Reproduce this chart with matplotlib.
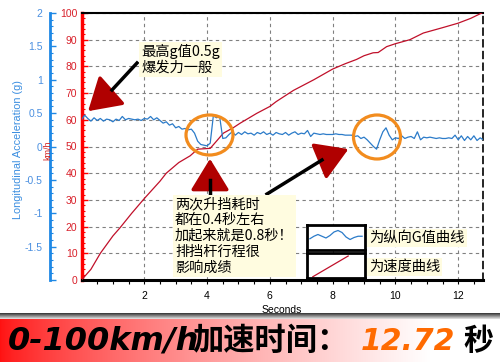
import numpy as np
import matplotlib
matplotlib.use("Agg")
import matplotlib.pyplot as plt
from matplotlib.patches import Ellipse, FancyArrowPatch

# speed curve (seconds, km/h)
speed_t = [0, 0.3, 0.6, 1.0, 1.23, 1.6, 2.0, 2.5, 2.7, 3.1, 3.46, 3.7, 4.1, 4.3, 4.52,
           4.83, 5.05, 5.58, 6.0, 6.2, 6.75, 7.4, 8.0, 8.4, 8.76, 9.0, 9.29, 9.45, 9.72,
           10.0, 10.46, 10.89, 11.5, 12.0, 12.4, 12.75]
speed_v = [0, 4, 10, 16.5, 19.6, 25, 30.5, 37, 40, 44, 46.5, 49, 49.3, 52, 55,
           57, 58.7, 62.4, 65, 66.8, 71, 75, 79, 81, 82.6, 84, 85.1, 85.2, 87.4,
           88.5, 90, 92.5, 94.5, 96.2, 98, 100]

# longitudinal acceleration (g), one reading every 0.1 s from 0 to 12.8 s
g_t = [round(i * 0.1, 1) for i in range(129)]
g_val = [0.40, 0.47, 0.42, 0.38, 0.43, 0.39, 0.42, 0.38, 0.41, 0.40,
         0.37, 0.41, 0.39, 0.45, 0.40, 0.42, 0.41, 0.40, 0.41, 0.39,
         0.42, 0.41, 0.45, 0.40, 0.43, 0.39, 0.35, 0.37, 0.32, 0.34,
         0.28, 0.30, 0.26, 0.27, 0.25, 0.26, 0.20, 0.08, 0.03, 0.02,
         0.01, 0.05, 0.46, 0.43, 0.45, 0.12, 0.13, 0.18, 0.22, 0.17,
         0.21, 0.18, 0.22, 0.19, 0.20, 0.17, 0.21, 0.19, 0.22, 0.18,
         0.20, 0.17, 0.21, 0.19, 0.18, 0.21, 0.17, 0.20, 0.22, 0.18,
         0.20, 0.19, 0.24, 0.15, 0.20, 0.19, 0.18, 0.19, 0.18, 0.18,
         0.18, 0.19, 0.18, 0.18, 0.17, 0.17, 0.17, 0.15, 0.16, 0.12,
         0.14, 0.10, 0.05, 0.00, -0.04, 0.10, 0.22, 0.28, 0.17, 0.10,
         0.13, 0.12, 0.16, 0.12, 0.14, 0.15, 0.12, 0.22, 0.10, 0.14,
         0.13, 0.14, 0.13, 0.12, 0.13, 0.12, 0.12, 0.13, 0.12, 0.17,
         0.10, 0.16, 0.09, 0.15, 0.10, 0.16, 0.09, 0.13, 0.10]

x_ticks = [2, 4, 6, 8, 10, 12]
g_ticks = [-2, -1.5, -1, -0.5, 0, 0.5, 1, 1.5, 2]
g_tick_labels = ["", "-1.5", "-1", "-0.5", "0", "0.5", "1", "1.5", "2"]
speed_ticks = list(range(0, 101, 10))

# little legend samples
legend_wave = [0.45, 0.55, 0.62, 0.55, 0.48, 0.58, 0.72, 0.78, 0.7, 0.52, 0.42, 0.5, 0.55, 0.55]

cjk = ["Noto Sans CJK SC", "DejaVu Sans"]
latin = "Liberation Sans"
W, H = 500, 362


def px(x, y):
    return (x / W, 1 - y / H)


fig = plt.figure(figsize=(W / 100, H / 100), dpi=100)
fig.patch.set_facecolor("white")

# ---- bottom banner ----
ban = fig.add_axes([0, 0, 1, 49 / H])
ban.set_axis_off()
xs = np.linspace(0, 1, 500)
fade = np.clip(xs / 0.86, 0, 1) ** 0.75
img = np.ones((49, 500, 3))
img[:, :, 1] = 0.07 + 0.93 * fade
img[:, :, 2] = 0.07 + 0.93 * fade
for r in range(6):
    shade = 0.25 + r * 0.12
    img[r, :, :] = shade
ban.imshow(img, aspect="auto", extent=[0, 1, 0, 1])
ban.set_xlim(0, 1)
ban.set_ylim(0, 1)

fig.text(8 / W, 1 - 341 / H, "0-100km/h", family="DejaVu Sans", fontsize=23,
         weight="bold", style="italic", color="black", va="center", ha="left")
fig.text(192 / W, 1 - 341 / H, "加速时间：", family=cjk, fontsize=22.5, weight="bold",
         color="black", va="center", ha="left")
fig.text(361 / W, 1 - 341 / H, "12.72", family="DejaVu Sans", fontsize=21.5, weight="bold",
         style="italic", color="#ff6a00", va="center", ha="left")
fig.text(463 / W, 1 - 341 / H, "秒", family=cjk, fontsize=21.5, weight="bold",
         color="black", va="center", ha="left")

# ---- main chart ----
ax = fig.add_axes([81.5 / W, 82 / H, (483 - 81.5) / W, (280 - 13) / H])
ax.plot(speed_t, speed_v, color="#c0102a", lw=0.9, zorder=3)
ax.set_xlim(0, 12.79)
ax.set_ylim(0, 100)
ax.set_xticks(x_ticks)
ax.set_xticks(np.arange(0.5, 12.8, 0.5), minor=True)
ax.set_yticks(speed_ticks)
ax.set_yticks(range(0, 101, 2), minor=True)
ax.grid(True, which="major", ls=(0, (3, 3)), color="#808080", lw=0.8)
ax.tick_params(axis="x", which="both", direction="out", colors="black", labelsize=7.5,
               length=3, width=0.8, pad=5)
ax.tick_params(axis="y", which="major", direction="in", length=4, width=1,
               colors="#ff0000", labelcolor="#d8202a", labelsize=7.5, pad=3)
ax.tick_params(axis="y", which="minor", direction="in", length=2, width=0.8, colors="#ff0000")
for lab in ax.get_xticklabels() + ax.get_yticklabels():
    lab.set_family(latin)
ax.spines["left"].set_color("#ff0000")
ax.spines["left"].set_linewidth(2.5)
ax.spines["bottom"].set_linewidth(2.2)
ax.spines["top"].set_linewidth(1.5)
ax.spines["right"].set_linestyle((0, (4, 3)))
ax.spines["right"].set_linewidth(1.2)
ax.set_xlabel("Seconds", fontsize=7.5, family=latin, labelpad=3)

ax2 = ax.twinx()
ax2.plot(g_t, g_val, color="#2b7bc9", lw=0.9, zorder=3)
ax2.set_ylim(-2, 2)
ax2.set_xlim(0, 12.79)
ax2.yaxis.set_ticks_position("left")
ax2.yaxis.set_label_position("left")
ax2.spines["left"].set_position(("outward", 23))
ax2.spines["left"].set_color("#1e88e5")
ax2.spines["left"].set_linewidth(2)
for s in ["right", "top", "bottom"]:
    ax2.spines[s].set_visible(False)
ax2.set_yticks(g_ticks)
ax2.set_yticklabels(g_tick_labels)
ax2.set_yticks(np.arange(-2, 2.01, 0.1), minor=True)
ax2.tick_params(axis="y", which="major", direction="in", length=4, width=1,
                colors="#1e88e5", labelcolor="#4a8fe0", labelsize=7.5, pad=5)
ax2.tick_params(axis="y", which="minor", direction="in", length=2, width=0.8, colors="#1e88e5")
for lab in ax2.get_yticklabels():
    lab.set_family(latin)

fig.text(18 / W, 1 - 150 / H, "Longitudinal Acceleration (g)", rotation=90, color="#3b8ee0",
         fontsize=7.8, family=latin, ha="center", va="center")
fig.text(47.5 / W, 1 - 150 / H, "km/h", rotation=90, color="#d02020", fontsize=6.5,
         family=latin, ha="center", va="center")

# ---- call-outs ----
yellow = dict(boxstyle="square,pad=0.15", fc="#fffce0", ec="none")
fig.text(141 / W, 1 - 59.5 / H, "最高g值0.5g\n爆发力一般", family=cjk, fontsize=10.3,
         ha="left", va="center", linespacing=1.2, bbox=yellow)
fig.text(175 / W, 1 - 236 / H, "两次升挡耗时\n都在0.4秒左右\n加起来就是0.8秒！\n排挡杆行程很\n影响成绩",
         family=cjk, fontsize=10.2, ha="left", va="center", linespacing=1.17, bbox=yellow)

fig.add_artist(Ellipse(px(209.5, 135), 47 / W, 40 / H, transform=fig.transFigure,
                       fill=False, ec="#f28c1e", lw=2.3))
fig.add_artist(Ellipse(px(377, 137), 47 / W, 44 / H, transform=fig.transFigure,
                       fill=False, ec="#f28c1e", lw=2.3))


def arrow(tail, neck, tip):
    fig.add_artist(plt.Line2D([tail[0] / W, neck[0] / W], [1 - tail[1] / H, 1 - neck[1] / H],
                              color="black", lw=2.5, transform=fig.transFigure))
    head = FancyArrowPatch(px(*neck), px(*tip), transform=fig.transFigure,
                           arrowstyle="-|>,head_length=9,head_width=5.5",
                           color="#b00000", lw=2.5, mutation_scale=2.2)
    fig.add_artist(head)


arrow((137, 63), (112, 90), (86, 113))
arrow((210, 197), (210, 180), (210, 156))
arrow((267, 194), (322, 160), (351, 148))

# ---- legend boxes ----
lg1 = fig.add_axes([307 / W, 1 - 250 / H, 58 / W, 25 / H])
lg1.plot(np.linspace(0.05, 0.95, len(legend_wave)), legend_wave, color="#2b7bc9", lw=0.9)
lg2 = fig.add_axes([307 / W, 1 - 278 / H, 58 / W, 25 / H])
lg2.plot([0.1, 0.71], [0.05, 0.88], color="#c0102a", lw=0.9)
for a in (lg1, lg2):
    a.set_xlim(0, 1)
    a.set_ylim(0, 1)
    a.set_xticks([])
    a.set_yticks([])
    for s in a.spines.values():
        s.set_linewidth(2)
fig.text(369 / W, 1 - 238 / H, "为纵向G值曲线", family=cjk, fontsize=10.3, ha="left",
         va="center", bbox=yellow)
fig.text(369 / W, 1 - 267 / H, "为速度曲线", family=cjk, fontsize=10.3, ha="left",
         va="center", bbox=yellow)

fig.savefig("out.png", dpi=100)
